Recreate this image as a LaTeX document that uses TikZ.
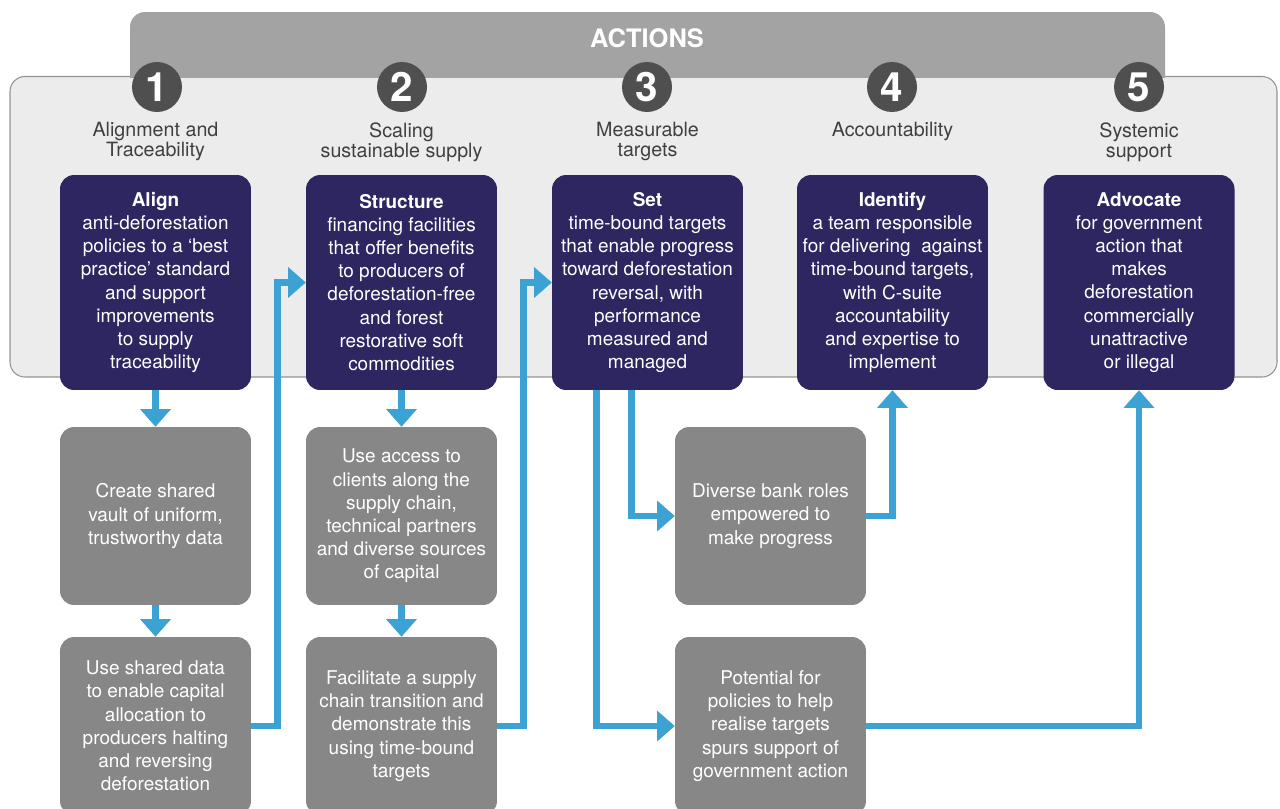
\documentclass[tikz,border=0pt]{standalone}
\usepackage{fontspec}
\setmainfont{TeX Gyre Heros}
\usetikzlibrary{arrows.meta,calc}
\definecolor{navy}{HTML}{2D2660}
\definecolor{boxgrey}{HTML}{878787}
\definecolor{tabgrey}{HTML}{A3A3A3}
\definecolor{panelgrey}{HTML}{ECECEC}
\definecolor{ringgrey}{HTML}{4F4F4F}
\definecolor{headgrey}{HTML}{404040}
\definecolor{flowblue}{HTML}{3BA2D3}

\begin{document}
\begin{tikzpicture}[x=0.02cm,y=-0.02cm]
    \tikzset{
        bluebox/.style={fill=navy, text=white, rounded corners=0.28cm, minimum width=3.82cm, minimum height=4.3cm, align=center, inner sep=0pt, font=\fontsize{10.8}{13.2}\selectfont},
        greybox/.style={bluebox, fill=boxgrey, minimum height=3.56cm},
        numcirc/.style={circle, fill=ringgrey, text=white, minimum size=1cm, inner sep=0pt, font=\fontsize{23}{23}\selectfont\bfseries},
        heading/.style={anchor=north, align=center, text=headgrey, inner sep=0pt, font=\fontsize{11.2}{11.4}\selectfont, execute at begin node=\rule{0pt}{8.1pt}},
        flow/.style={draw=flowblue, line width=3.8pt, -{Triangle[length=10pt,width=17.5pt,line width=0.4pt]}}
    }

    \useasboundingbox (0,0) rectangle (1280,808);

    \draw[fill=panelgrey, draw=gray!85, line width=0.6pt, rounded corners=0.3cm] (10,76.5) rectangle (1277,377);
    \begin{scope}
        \clip (0,0) rectangle (1280,77.5);
        \fill[tabgrey, rounded corners=0.3cm] (130,12) rectangle (1165,140);
    \end{scope}
    \node[text=white, font=\fontsize{14.5}{14.5}\selectfont\bfseries] (title) at (647,38) {ACTIONS};

    \foreach \n/\x in {1/157,2/402,3/647,4/892,5/1139}{
        \node[numcirc] (n\n) at (\x,87) {\n};
    }

    \node[heading] (h1) at (155.5,122) {Alignment and\\Traceability};
    \node[heading] (h2) at (401.5,122) {Scaling\\sustainable supply};
    \node[heading] (h3) at (647.5,122) {Measurable\\targets};
    \node[heading] (h4) at (892.5,122) {Accountability};
    \node[heading] (h5) at (1139,122) {Systemic\\support};

    \node[bluebox] (s1) at (155.5,282.5) {\textbf{Align}\\anti-deforestation\\policies to a ‘best\\practice’ standard\\and support\\improvements\\to supply\\traceability};
    \node[bluebox] (s2) at (401.5,282.5) {\textbf{Structure}\\financing facilities\\that offer benefits\\to producers of\\deforestation-free\\and forest\\restorative soft\\commodities};
    \node[bluebox] (s3) at (647.5,282.5) {\textbf{Set}\\time-bound targets\\that enable progress\\toward deforestation\\reversal, with\\performance\\measured and\\managed};
    \node[bluebox] (s4) at (892.5,282.5) {\textbf{Identify}\\a team responsible\\for delivering\ \ against\\time-bound targets,\\with C-suite\\accountability\\and expertise to\\implement};
    \node[bluebox] (s5) at (1139,282.5) {\textbf{Advocate}\\for government\\action that\\makes\\deforestation\\commercially\\unattractive\\or illegal};

    \node[greybox] (g1a) at (155.5,516) {Create shared\\vault of uniform,\\trustworthy data};
    \node[greybox] (g1b) at (155.5,726) {Use shared data\\to enable capital\\allocation to\\producers halting\\and reversing\\deforestation};
    \node[greybox] (g2a) at (401.5,516) {Use access to\\clients along the\\supply chain,\\technical partners\\and diverse sources\\of capital};
    \node[greybox] (g2b) at (401.5,726) {Facilitate a supply\\chain transition and\\demonstrate this\\using time-bound\\targets};
    \node[greybox] (g3a) at (770.5,516) {Diverse bank roles\\empowered to\\make progress};
    \node[greybox] (g3b) at (770.5,726) {Potential for\\policies to help\\realise targets\\spurs support of\\government action};

    \foreach \x/\y in {s1/g1a, g1a/g1b, s2/g2a, g2a/g2b}{
        \draw[flow] (\x) -- (\y);
    }
    \draw[flow] (g1b.east) -- ++(26,0) |- (s2.west);
    \draw[flow] (g2b.east) -- ++(26,0) |- (s3.west);
    \draw[flow] ($(s3.south west)+(80,0)$) |- (g3a);
    \draw[flow] ($(s3.south west)+(45,0)$) |- (g3b);
    \draw[flow] (g3a) -| (s4);
    \draw[flow] (g3b) -| (s5);
\end{tikzpicture}
\end{document}
